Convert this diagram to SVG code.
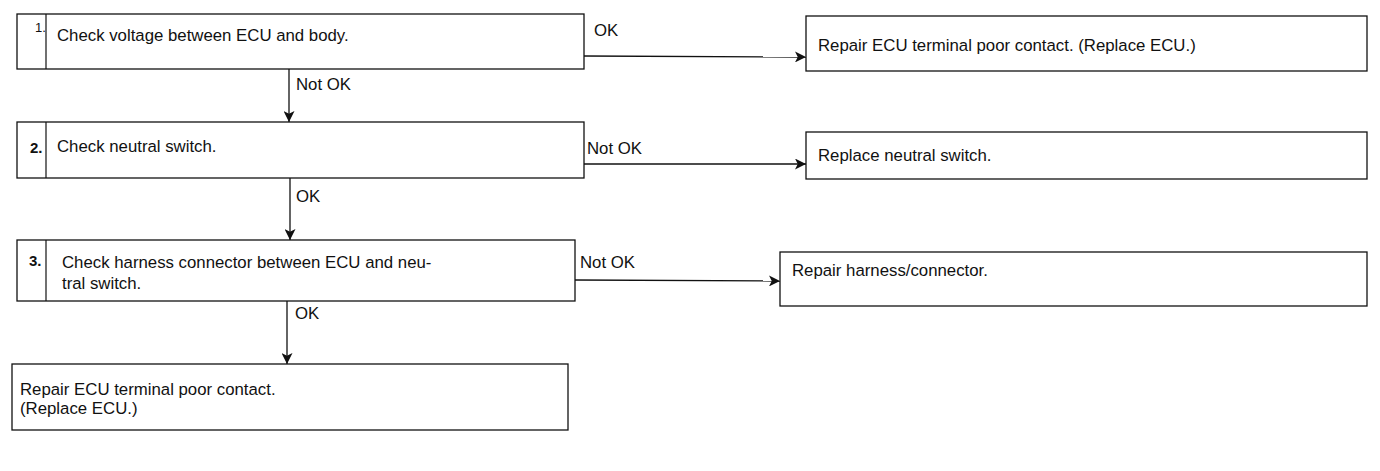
<svg xmlns="http://www.w3.org/2000/svg" width="1380" height="471" viewBox="0 0 1380 471">
<style>
.box{fill:#fff;stroke:#111;stroke-width:1.3}
.div{stroke:#111;stroke-width:1.2}
.t{font-family:"Liberation Sans",Arial,sans-serif;font-size:16.8px;fill:#111}
.n{font-family:"Liberation Sans",Arial,sans-serif;font-size:13px;fill:#111}
.nb{font-family:"Liberation Sans",Arial,sans-serif;font-size:15px;font-weight:bold;fill:#111}
.c{fill:none;stroke:#111;stroke-width:1.3}
</style>
<defs>
<marker id="ah" viewBox="0 0 10 10" refX="10" refY="5" markerWidth="12" markerHeight="11" markerUnits="userSpaceOnUse" orient="auto">
<path d="M0,0 L10,5 L0,10 L2.5,5 Z" fill="#111"/>
</marker>
</defs>
<rect width="1380" height="471" fill="#fff"/>
<g id="connectors">
<line class="c" x1="584" y1="56" x2="806" y2="57" marker-end="url(#ah)"/>
<line class="c" x1="289" y1="69" x2="289" y2="122" marker-end="url(#ah)"/>
<line class="c" x1="584" y1="164" x2="806" y2="164" marker-end="url(#ah)"/>
<line class="c" x1="290" y1="178" x2="290" y2="240" marker-end="url(#ah)"/>
<line class="c" x1="575" y1="280" x2="780" y2="281" marker-end="url(#ah)"/>
<line class="c" x1="287" y1="301" x2="287" y2="364" marker-end="url(#ah)"/>
<text class="t" x="594" y="36">OK</text>
<text class="t" x="296" y="90">Not OK</text>
<text class="t" x="587" y="154">Not OK</text>
<text class="t" x="296" y="202">OK</text>
<text class="t" x="580" y="268">Not OK</text>
<text class="t" x="295" y="319">OK</text>
</g>
<g id="step1">
<rect class="box" x="17" y="14" width="567" height="55"/>
<line class="div" x1="46" y1="14" x2="46" y2="69"/>
<text class="n" x="35" y="32">1.</text>
<text class="t" x="57" y="41">Check voltage between ECU and body.</text>
</g>
<g id="result1">
<rect class="box" x="806" y="16" width="561" height="55"/>
<text class="t" x="818" y="51">Repair ECU terminal poor contact. (Replace ECU.)</text>
</g>
<g id="step2">
<rect class="box" x="17" y="122" width="567" height="56"/>
<line class="div" x1="46" y1="122" x2="46" y2="178"/>
<text class="nb" x="30" y="153">2.</text>
<text class="t" x="57" y="152">Check neutral switch.</text>
</g>
<g id="result2">
<rect class="box" x="806" y="132" width="561" height="47"/>
<text class="t" x="818" y="161">Replace neutral switch.</text>
</g>
<g id="step3">
<rect class="box" x="17" y="240" width="558" height="61"/>
<line class="div" x1="46" y1="240" x2="46" y2="301"/>
<text class="nb" x="29" y="266">3.</text>
<text class="t" x="62" y="268">Check harness connector between ECU and neu-</text>
<text class="t" x="62" y="289">tral switch.</text>
</g>
<g id="result3">
<rect class="box" x="780" y="252" width="587" height="54"/>
<text class="t" x="792" y="276">Repair harness/connector.</text>
</g>
<g id="final">
<rect class="box" x="12" y="364" width="556" height="66"/>
<text class="t" x="20" y="395">Repair ECU terminal poor contact.</text>
<text class="t" x="20" y="414">(Replace ECU.)</text>
</g>
</svg>
